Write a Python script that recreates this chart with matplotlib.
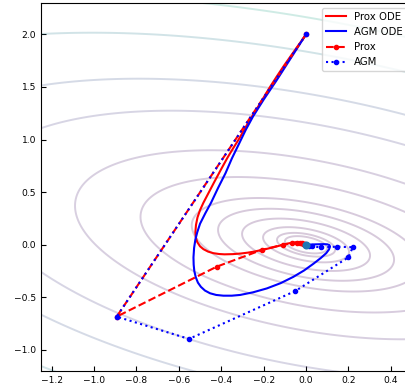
import numpy as np
import matplotlib
matplotlib.use("Agg")
import matplotlib.pyplot as plt
from matplotlib.colors import Normalize

plt.rcParams['font.size'] = 6.6

quad_a = 0.68
quad_b = 0.34
quad_c = 1.0
contour_levels = [0.0028, 0.0053, 0.0116, 0.0257, 0.0486, 0.082, 0.172, 0.335,
                  0.674, 1.034, 1.686, 2.34]

# continuous-time trajectories
prox_ode_x = [0.0, -0.035, -0.07, -0.105, -0.138, -0.17, -0.20, -0.233, -0.264, -0.29,
              -0.315, -0.343, -0.37, -0.40, -0.432, -0.458, -0.484, -0.500, -0.512, -0.519,
              -0.522, -0.520, -0.513, -0.500, -0.484, -0.462, -0.437, -0.41, -0.385, -0.345,
              -0.307, -0.275, -0.248, -0.200, -0.154, -0.120, -0.091, -0.065, -0.044, -0.025,
              -0.013, -0.005, 0.0]
prox_ode_y = [2.0, 1.90, 1.80, 1.70, 1.60, 1.50, 1.40, 1.29, 1.19, 1.10,
              1.01, 0.92, 0.83, 0.72, 0.60, 0.50, 0.40, 0.33, 0.26, 0.19,
              0.12, 0.07, 0.025, -0.015, -0.042, -0.065, -0.080, -0.088, -0.091, -0.089,
              -0.083, -0.075, -0.066, -0.046, -0.024, -0.006, 0.010, 0.020, 0.025, 0.022,
              0.014, 0.006, 0.0]

agm_ode_x = [0.0, -0.035, -0.07, -0.105, -0.14, -0.17, -0.20, -0.225, -0.25, -0.285,
             -0.315, -0.35, -0.38, -0.415, -0.448, -0.475, -0.50, -0.513, -0.522, -0.528,
             -0.531, -0.530, -0.527, -0.520, -0.510, -0.496, -0.477, -0.453, -0.424, -0.39,
             -0.35, -0.311, -0.250, -0.185, -0.12, -0.06, -0.01, 0.035, 0.07, 0.095,
             0.108, 0.113, 0.110, 0.100, 0.085, 0.066, 0.045, 0.025, 0.010, 0.0]
agm_ode_y = [2.0, 1.89, 1.78, 1.67, 1.56, 1.47, 1.38, 1.30, 1.22, 1.09,
             0.965, 0.82, 0.68, 0.54, 0.40, 0.30, 0.20, 0.12, 0.05, -0.03,
             -0.12, -0.19, -0.25, -0.31, -0.36, -0.40, -0.435, -0.461, -0.477, -0.484,
             -0.484, -0.477, -0.452, -0.415, -0.365, -0.305, -0.245, -0.18, -0.125, -0.08,
             -0.045, -0.018, -0.003, 0.004, 0.006, 0.005, 0.004, 0.002, 0.001, 0.0]

# discrete iterates
prox_x = [0.0, -0.893, -0.421, -0.209, -0.110, -0.067, -0.044, -0.030, -0.020, -0.013, -0.008, -0.005, -0.003]
prox_y = [2.0, -0.683, -0.208, -0.049, 0.000, 0.014, 0.018, 0.016, 0.012, 0.008, 0.005, 0.003, 0.002]

agm_x = [0.0, -0.893, -0.552, -0.050, 0.200, 0.220, 0.148, 0.071, 0.030, 0.012, 0.003]
agm_y = [2.0, -0.683, -0.895, -0.439, -0.119, -0.024, -0.018, -0.025, -0.016, -0.008, -0.003]

minimizer_x = [0.0]
minimizer_y = [0.0]

fig = plt.figure(figsize=(4.06, 3.88), dpi=100)
ax = fig.add_axes([0.101, 0.0438, 0.914, 0.949])

gx = np.linspace(-1.3, 0.6, 500)
gy = np.linspace(-1.3, 2.4, 500)
X, Y = np.meshgrid(gx, gy)
Z = 0.5 * (quad_a * X**2 + 2 * quad_b * X * Y + quad_c * Y**2)
ax.contour(X, Y, Z, levels=contour_levels, cmap='viridis',
           norm=Normalize(vmin=0.0, vmax=4.0), alpha=0.21, linewidths=1.4)

ax.plot(prox_ode_x, prox_ode_y, '-', color='red', lw=1.5, label='Prox ODE')
ax.plot(agm_ode_x, agm_ode_y, '-', color='blue', lw=1.5, label='AGM ODE')
ax.plot(prox_x, prox_y, '--', color='red', marker='.', lw=1.5, label='Prox')
ax.plot(agm_x, agm_y, ':', color='blue', marker='.', lw=1.5, label='AGM')
ax.plot(minimizer_x, minimizer_y, 'o', color='#1f77b4', ms=4.8, zorder=5)

ax.set_xlim(-1.25, 0.5)
ax.set_ylim(-1.2, 2.3)
ax.set_xticks([-1.2, -1.0, -0.8, -0.6, -0.4, -0.2, 0.0, 0.2, 0.4])
ax.set_yticks([-1.0, -0.5, 0.0, 0.5, 1.0, 1.5, 2.0])
ax.tick_params(direction='in')
ax.legend(loc='upper right', fontsize=7.3)

fig.savefig('out.png', dpi=100)
